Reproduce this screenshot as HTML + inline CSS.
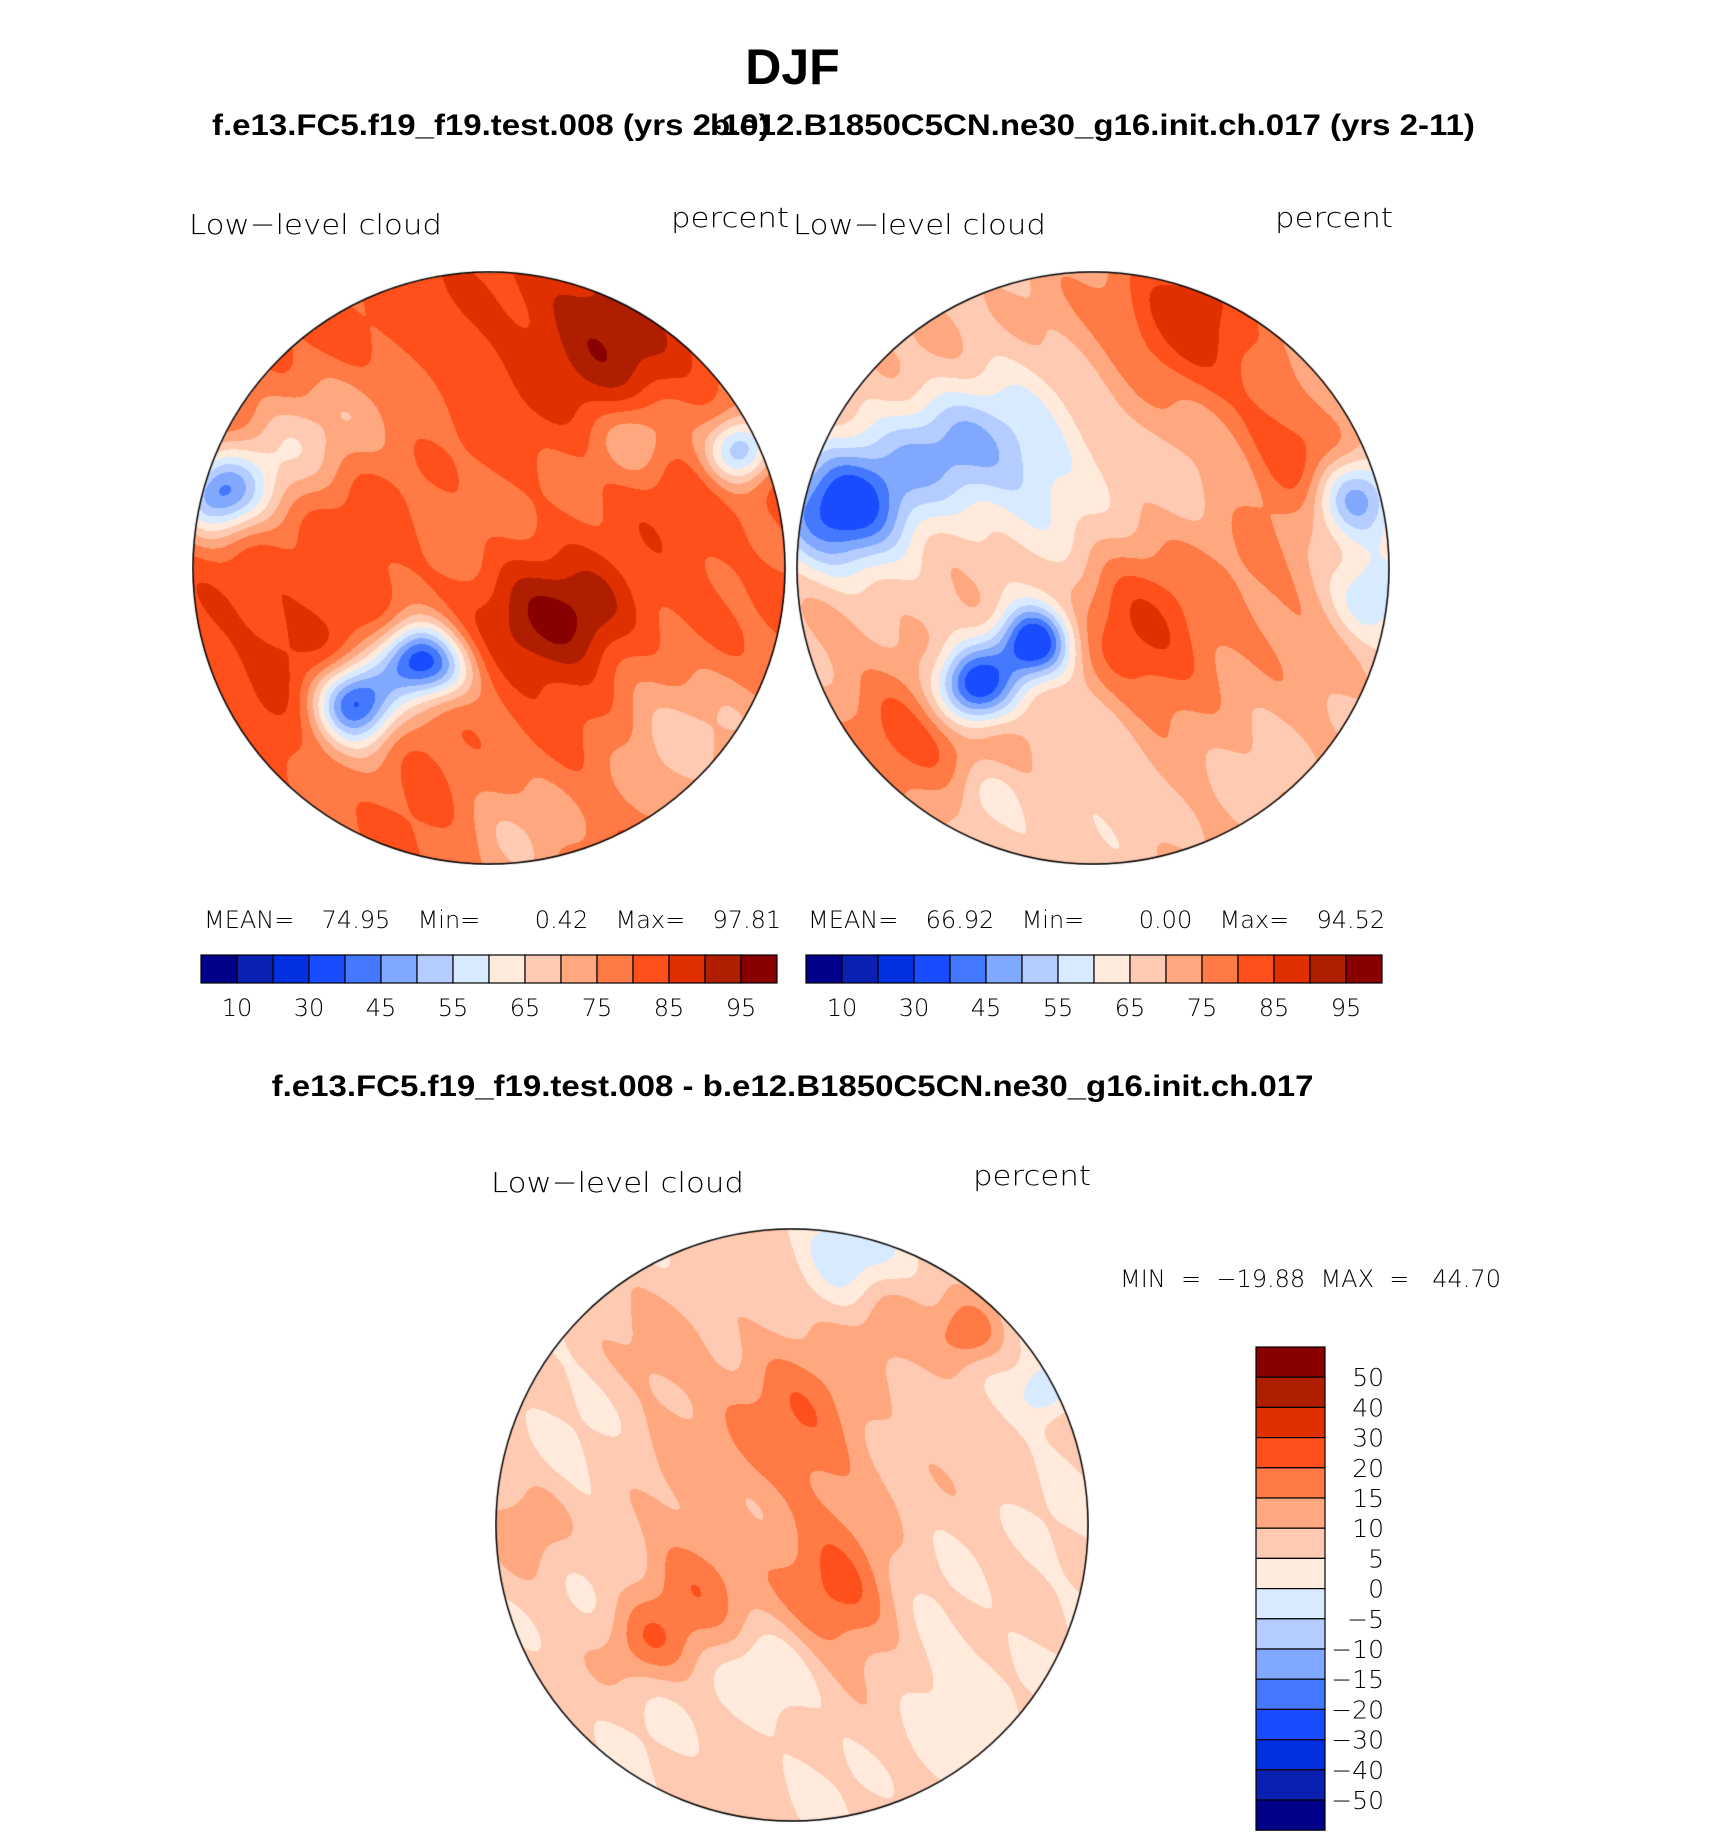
<!DOCTYPE html>
<html><head><meta charset="utf-8"><style>
body{margin:0;background:#fff;width:1710px;height:1839px;position:relative;overflow:hidden;font-family:"Liberation Sans",sans-serif}
.t{position:absolute;white-space:nowrap}
.b{font-weight:bold}
.l{font-family:"DejaVu Sans","Liberation Sans",sans-serif;font-weight:300;color:#000}
canvas{position:absolute}
</style></head><body>
<div class="t b" style="left:0;width:1585px;text-align:center;top:38px;font-size:50px">DJF</div>
<div class="t b" style="left:212px;top:109px;font-size:30px;transform:scaleX(1.1);transform-origin:left">f.e13.FC5.f19_f19.test.008 (yrs 2-10)</div>
<div class="t b" style="left:710px;top:109px;font-size:30px;transform:scaleX(1.1);transform-origin:left">b.e12.B1850C5CN.ne30_g16.init.ch.017 (yrs 2-11)</div>
<div class="t l" style="left:189px;top:208px;font-size:28px;transform:scaleX(1.1);transform-origin:left">Low−level cloud</div>
<div class="t l" style="left:671px;top:201px;font-size:28px;transform:scaleX(1.1);transform-origin:left">percent</div>
<div class="t l" style="left:793px;top:208px;font-size:28px;transform:scaleX(1.1);transform-origin:left">Low−level cloud</div>
<div class="t l" style="left:1275px;top:201px;font-size:28px;transform:scaleX(1.1);transform-origin:left">percent</div>
<div class="t l" style="left:204px;top:906px;font-size:24px;word-spacing:6px">MEAN=&nbsp;&nbsp;74.95&nbsp;&nbsp;Min=&nbsp;&nbsp;&nbsp;&nbsp;0.42&nbsp;&nbsp;Max=&nbsp;&nbsp;97.81</div>
<div class="t l" style="left:808px;top:906px;font-size:24px;word-spacing:6px">MEAN=&nbsp;&nbsp;66.92&nbsp;&nbsp;Min=&nbsp;&nbsp;&nbsp;&nbsp;0.00&nbsp;&nbsp;Max=&nbsp;&nbsp;94.52</div>
<div class="t b" style="left:0;width:1585px;text-align:center;top:1070px;font-size:30px;transform:scaleX(1.1);transform-origin:792px">f.e13.FC5.f19_f19.test.008 - b.e12.B1850C5CN.ne30_g16.init.ch.017</div>
<div class="t l" style="left:491px;top:1166px;font-size:28px;transform:scaleX(1.1);transform-origin:left">Low−level cloud</div>
<div class="t l" style="left:973px;top:1159px;font-size:28px;transform:scaleX(1.1);transform-origin:left">percent</div>
<div class="t l" style="left:1120px;top:1265px;font-size:24px">MIN&nbsp; =&nbsp; −19.88&nbsp; MAX&nbsp; =&nbsp;&nbsp; 44.70</div>
<canvas id="m1" width="594" height="594" style="left:192px;top:271px"></canvas>
<canvas id="m2" width="594" height="594" style="left:796px;top:271px"></canvas>
<canvas id="m3" width="594" height="594" style="left:495px;top:1228px"></canvas>
<svg id="cb" width="1710" height="1839" style="position:absolute;left:0;top:0"></svg>
<script>
const colors=["#000088","#0a20b0","#0030e0","#1a4cff","#4478ff","#80a8ff","#b4ccff","#d8eaff","#ffeadc","#ffcab2","#ffa880","#ff7a45","#ff4f1a","#e03000","#b01e00","#880000"];
const levelsAbs=[10,20,30,40,45,50,55,60,65,70,75,80,85,90,95];
const levelsDiff=[-50,-40,-30,-20,-15,-10,-5,0,5,10,15,20,30,40,50];
const ticksAbs=["10","30","45","55","65","75","85","95"];
const ticksDiff=["50","40","30","20","15","10","5","0","−5","−10","−15","−20","−30","−40","−50"];
// blob fields: normalized x,y (-1..1), amplitude, spread
const m1Base=82;
const m1X=[0.35,0.15,0.35,-0.45,-0.25,-0.92,0.85,-0.6,0.7,-0.55,0.1,-0.55,0.5,-0.75,0.0,-0.15];
const m1Y=[-0.8,0.2,0.15,0.45,0.3,-0.25,-0.4,0.3,0.55,0.75,0.9,-0.5,-0.45,-0.35,-0.2,0.35];
const m1A=[12,10,10,-45,-40,-35,-30,8,-14,-2,-10,-12,-12,-10,-4,-15];
const m1S=[0.2,0.15,0.12,0.1,0.09,0.1,0.08,0.15,0.2,0.2,0.2,0.15,0.1,0.12,0.2,0.08];
const m2Base=70;
const m2X=[0.3,-0.85,-0.5,-0.2,-0.4,-0.2,-0.5,0.15,0.75,0.88,-0.2,0.6,0.95,-0.35,0.5,0.0];
const m2Y=[-0.85,-0.2,-0.4,-0.35,0.4,0.25,0.55,0.25,-0.35,-0.25,0.9,-0.5,0.1,0.75,0.1,0.6];
const m2A=[20,-35,-18,-12,-45,-40,15,14,12,-25,-5,8,-15,-10,6,-5];
const m2S=[0.18,0.15,0.15,0.2,0.1,0.09,0.2,0.18,0.12,0.1,0.15,0.12,0.1,0.1,0.2,0.15];
const m3Base=6;
const m3X=[0.0,0.15,0.2,0.6,0.85,-0.35,-0.5,-0.1,0.6,-0.9,0.3,-0.4];
const m3Y=[-0.3,0.25,-0.95,-0.65,-0.45,0.2,0.4,0.5,0.5,0.0,-0.7,-0.6];
const m3A=[12,14,-10,12,-10,10,10,-6,-3,6,6,6];
const m3S=[0.25,0.15,0.12,0.08,0.06,0.15,0.1,0.1,0.2,0.1,0.1,0.12];
function field(base,X,Y,A,S,x,y){let v=base;for(let i=0;i<X.length;i++){const dx=x-X[i],dy=y-Y[i];v+=A[i]*Math.exp(-(dx*dx+dy*dy)/(2*S[i]*S[i]));}v+=2.5*Math.sin(9*x+4*y)*Math.cos(7*y-3*x)+1.5*Math.sin(23*x-17*y);return v;}
function lvl(levels,v){let k=0;while(k<levels.length&&v>=levels[k])k++;return k;}
function hex(c){return [parseInt(c.slice(1,3),16),parseInt(c.slice(3,5),16),parseInt(c.slice(5,7),16)];}
const rgb=colors.map(hex);
function draw(id,base,X,Y,A,S,levels){const cv=document.getElementById(id),ctx=cv.getContext('2d');const W=594,R=296,c=297;const img=ctx.createImageData(W,W);
for(let j=0;j<W;j++)for(let i=0;i<W;i++){const x=(i-c)/R,y=(j-c)/R;if(x*x+y*y>1)continue;const k=lvl(levels,field(base,X,Y,A,S,x,y));const p=(j*W+i)*4;const q=rgb[k];img.data[p]=q[0];img.data[p+1]=q[1];img.data[p+2]=q[2];img.data[p+3]=255;}
ctx.putImageData(img,0,0);ctx.beginPath();ctx.arc(c,c,R,0,Math.PI*2);ctx.lineWidth=1.5;ctx.strokeStyle='#000';ctx.stroke();}
draw('m1',m1Base,m1X,m1Y,m1A,m1S,levelsAbs);
draw('m2',m2Base,m2X,m2Y,m2A,m2S,levelsAbs);
draw('m3',m3Base,m3X,m3Y,m3A,m3S,levelsDiff);
const svg=document.getElementById('cb');const NS='http://www.w3.org/2000/svg';
function hbar(x0,name){const w=36;for(let i=0;i<16;i++){const r=document.createElementNS(NS,'rect');r.setAttribute('x',x0+i*w);r.setAttribute('y',955);r.setAttribute('width',w);r.setAttribute('height',28);r.setAttribute('fill',colors[i]);r.setAttribute('stroke','#000');r.setAttribute('stroke-width','1.2');


svg.appendChild(r);}
ticksAbs.forEach((t,k)=>{const tx=document.createElementNS(NS,'text');tx.setAttribute('x',x0+(2*k+1)*w);tx.setAttribute('y',1016);tx.setAttribute('text-anchor','middle');tx.setAttribute('font-size','24');tx.setAttribute('font-family','DejaVu Sans, Liberation Sans, sans-serif');tx.setAttribute('font-weight','300');tx.textContent=t;


svg.appendChild(tx);});}
hbar(201,'colorbar-1');hbar(806,'colorbar-2');
const h=30.2;for(let i=0;i<16;i++){const r=document.createElementNS(NS,'rect');r.setAttribute('x',1256);r.setAttribute('y',1347+i*h);r.setAttribute('width',69);r.setAttribute('height',h);r.setAttribute('fill',colors[15-i]);r.setAttribute('stroke','#000');r.setAttribute('stroke-width','1.2');


svg.appendChild(r);}
ticksDiff.forEach((t,k)=>{const tx=document.createElementNS(NS,'text');tx.setAttribute('x',1384);tx.setAttribute('y',1347+(k+1)*h+9);tx.setAttribute('text-anchor','end');tx.setAttribute('font-size','25');tx.setAttribute('font-family','DejaVu Sans, Liberation Sans, sans-serif');tx.setAttribute('font-weight','300');tx.textContent=t;


svg.appendChild(tx);});
</script>
</body></html>
